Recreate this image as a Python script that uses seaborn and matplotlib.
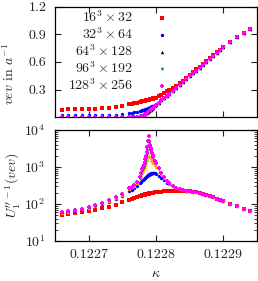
import numpy as np
import matplotlib
matplotlib.use("Agg")
import matplotlib.pyplot as plt
import seaborn as sns
from matplotlib.ticker import FormatStrFormatter, FixedLocator, NullFormatter, LogLocator

# --- Data (kappa offsets in units of 1e-6 from 0.1227) ---
kappa_off = [-40, -30, -20, -10, 0, 10, 20, 30, 40, 50,
             60, 64, 68, 72, 76, 78, 80, 81, 82, 83, 84, 85, 86, 87, 88, 89, 90, 91, 92, 93, 94, 95, 96, 98, 100,
             104, 108, 112, 116, 120, 125, 130, 135, 140, 145, 150, 155, 160, 165, 170, 175, 180, 185, 190, 195, 200,
             210, 220, 230, 240]

# vev in lattice units
vev_16 = [0.084, 0.085, 0.087, 0.089, 0.091, 0.094, 0.098, 0.103, 0.110, 0.120,
          0.140, 0.146, 0.152, 0.158, 0.165, 0.168, 0.172, 0.174, 0.176, 0.178, 0.180, 0.182, 0.184, 0.186, 0.188,
          0.190, 0.192, 0.194, 0.196, 0.198, 0.200, 0.203, 0.205, 0.209, 0.214,
          0.228, 0.244, 0.262, 0.281, 0.300, 0.320, 0.342, 0.369, 0.397, 0.426, 0.456, 0.487, 0.518, 0.549, 0.580,
          0.611, 0.642, 0.673, 0.704, 0.733, 0.762,
          0.815, 0.865, 0.915, 0.960]
vev_32 = [0.020, 0.021, 0.021, 0.022, 0.023, 0.024, 0.025, 0.027, 0.029, 0.032,
          0.043, 0.048, 0.053, 0.059, 0.066, 0.070, 0.074, 0.077, 0.079, 0.082, 0.085, 0.088, 0.091, 0.094, 0.097,
          0.100, 0.103, 0.107, 0.110, 0.114, 0.117, 0.121, 0.124, 0.132, 0.140,
          0.160, 0.183, 0.208, 0.234, 0.259, 0.289, 0.320, 0.351, 0.382, 0.413, 0.445, 0.476, 0.507, 0.538, 0.570,
          0.601, 0.632, 0.663, 0.695, 0.726, 0.757,
          0.815, 0.865, 0.915, 0.960]
vev_64 = [0.010, 0.010, 0.011, 0.011, 0.011, 0.012, 0.012, 0.013, 0.013, 0.014,
          0.015, 0.016, 0.017, 0.019, 0.022, 0.025, 0.028, 0.030, 0.033, 0.036, 0.040, 0.044, 0.049, 0.054, 0.059,
          0.065, 0.071, 0.077, 0.083, 0.089, 0.095, 0.101, 0.107, 0.119, 0.131,
          0.156, 0.182, 0.207, 0.232, 0.257, 0.288, 0.320, 0.351, 0.382, 0.413, 0.445, 0.476, 0.507, 0.538, 0.570,
          0.601, 0.632, 0.663, 0.695, 0.726, 0.757,
          0.815, 0.865, 0.915, 0.960]
vev_96 = [0.005, 0.005, 0.005, 0.005, 0.006, 0.006, 0.006, 0.006, 0.007, 0.007,
          0.007, 0.007, 0.008, 0.008, 0.009, 0.011, 0.015, 0.018, 0.023, 0.028, 0.034, 0.040, 0.046, 0.052, 0.058,
          0.064, 0.070, 0.076, 0.082, 0.088, 0.094, 0.100, 0.106, 0.119, 0.131,
          0.156, 0.182, 0.207, 0.232, 0.257, 0.288, 0.320, 0.351, 0.382, 0.413, 0.445, 0.476, 0.507, 0.538, 0.570,
          0.601, 0.632, 0.663, 0.695, 0.726, 0.757,
          0.815, 0.865, 0.915, 0.960]
vev_128 = [0.002, 0.002, 0.002, 0.002, 0.003, 0.003, 0.003, 0.003, 0.003, 0.003,
           0.004, 0.004, 0.004, 0.005, 0.005, 0.006, 0.010, 0.014, 0.020, 0.026, 0.032, 0.038, 0.044, 0.050, 0.056,
           0.063, 0.069, 0.075, 0.081, 0.088, 0.094, 0.100, 0.106, 0.119, 0.131,
           0.156, 0.182, 0.207, 0.232, 0.257, 0.288, 0.320, 0.351, 0.382, 0.413, 0.445, 0.476, 0.507, 0.538, 0.570,
           0.601, 0.632, 0.663, 0.695, 0.726, 0.757,
           0.815, 0.865, 0.915, 0.960]

# inverse second derivative of the effective potential
u_16 = [50, 54, 57, 60, 65, 71, 76, 85, 95, 112,
        130, 139, 148, 157, 165, 169, 173, 175, 177, 179, 181, 183, 185, 187, 189,
        191, 193, 195, 197, 198, 200, 201, 203, 205, 208,
        213, 217, 221, 224, 227, 229, 230, 230, 228, 225, 220, 213, 205, 196, 186,
        175, 163, 151, 139, 128, 117,
        102, 87, 73, 64]
u_32 = [57, 61, 66, 70, 78, 86, 100, 116, 138, 165,
        220, 245, 275, 315, 370, 400, 435, 455, 475, 495, 520, 540, 560, 580, 600,
        620, 635, 650, 665, 675, 685, 690, 690, 680, 655,
        585, 505, 435, 380, 340, 300, 272, 255, 240, 229, 221, 214, 206, 197, 187,
        176, 164, 152, 140, 129, 118,
        102, 87, 73, 64]
u_64 = [58, 62, 67, 72, 80, 89, 104, 122, 146, 176,
        255, 282, 315, 375, 490, 580, 700, 780, 870, 980, 1120, 1300, 1520, 1780, 2000,
        2100, 2000, 1850, 1700, 1560, 1440, 1340, 1250, 1100, 980,
        800, 640, 510, 420, 358, 308, 274, 251, 236, 226, 219, 212, 205, 196, 186,
        175, 163, 151, 139, 128, 117,
        102, 87, 73, 64]
u_96 = [59, 63, 68, 73, 82, 91, 106, 125, 150, 182,
        262, 287, 318, 385, 520, 640, 800, 900, 1030, 1200, 1450, 1750, 2200, 2900, 3800,
        4500, 3700, 3100, 2700, 2400, 2100, 1900, 1700, 1400, 1200,
        900, 690, 535, 428, 363, 309, 275, 252, 237, 227, 219, 212, 205, 196, 186,
        175, 163, 151, 139, 128, 117,
        102, 87, 73, 64]
u_128 = [60, 64, 69, 74, 83, 92, 108, 127, 152, 185,
         265, 290, 320, 390, 540, 680, 880, 1000, 1150, 1350, 1650, 2000, 2600, 3500, 5000,
         6800, 5000, 4000, 3300, 2800, 2400, 2100, 1850, 1500, 1250,
         920, 700, 540, 430, 365, 310, 275, 252, 237, 227, 219, 212, 205, 196, 186,
         175, 163, 151, 139, 128, 117,
         102, 87, 73, 64]

labels = [r"$16^3\times 32$", r"$32^3\times 64$", r"$64^3\times 128$",
          r"$96^3\times 192$", r"$128^3\times 256$"]

kappa = 0.1227 + np.array(kappa_off) * 1e-6

# --- Style ---
sns.set_style("ticks")
plt.rcParams.update({
    "font.family": "cmr10",
    "mathtext.fontset": "cm",
    "axes.formatter.use_mathtext": True,
    "font.size": 10,
    "xtick.direction": "in",
    "ytick.direction": "in",
    "xtick.top": True,
    "ytick.right": True,
    "axes.linewidth": 0.9,
    "axes.edgecolor": "black",
    "text.color": "#222222",
    "xtick.color": "#222222",
    "ytick.color": "#222222",
})

fig = plt.figure(figsize=(2.58, 2.81), dpi=100)
ax1 = fig.add_axes([0.213, 0.5826, 0.783, 0.394])
ax2 = fig.add_axes([0.213, 0.1423, 0.783, 0.395])

top_series = [vev_16, vev_32, vev_64, vev_96, vev_128]
bot_series = [u_16, u_32, u_64, u_96, u_128]
top_colors = ["#ff0000", "#0000ff", "#000000", "#008000", "#ff00ff"]
bot_colors = ["#ff0000", "#0000ff", "#ffa500", "#008000", "#ff00ff"]
markers = ["s", "o", "^", "v", "P"]
sizes = [6, 6, 6, 6, 7]

for vals, c, m, sz, lab in zip(top_series, top_colors, markers, sizes, labels):
    sns.scatterplot(x=kappa, y=vals, marker=m, color=c, s=sz, linewidth=0, ax=ax1, label=lab)
for vals, c, m, sz in zip(bot_series, bot_colors, markers, sizes):
    sns.scatterplot(x=kappa, y=vals, marker=m, color=c, s=sz, linewidth=0, ax=ax2)

for ax in (ax1, ax2):
    ax.set_xlim(0.12265, 0.12295)
    ax.xaxis.set_major_locator(FixedLocator([0.1227, 0.1228, 0.1229]))

ax1.set_ylim(0, 1.2)
ax1.set_yticks([0.3, 0.6, 0.9, 1.2])
ax1.yaxis.set_major_formatter(FormatStrFormatter("%.1f"))
ax1.xaxis.set_major_formatter(NullFormatter())
ax1.set_ylabel(r"$vev$ in $a^{-1}$")
ax1.yaxis.set_label_coords(-0.19, 0.39)

ax2.set_yscale("log")
ax2.set_ylim(10, 1e4)
ax2.yaxis.set_major_locator(LogLocator(base=10, numticks=10))
ax2.yaxis.set_minor_locator(LogLocator(base=10, subs=np.arange(2, 10), numticks=10))
ax2.xaxis.set_major_formatter(FormatStrFormatter("%.4f"))
ax2.set_ylabel(r"$U_1^{\prime\prime\,-1}(vev)$")
ax2.yaxis.set_label_coords(-0.165, 0.5)
ax2.set_xlabel(r"$\kappa$")
ax2.xaxis.set_label_coords(0.5, -0.24)

for ax in (ax1, ax2):
    ax.tick_params(which="major", length=4, width=0.8, pad=6)
    ax.tick_params(which="minor", length=2, width=0.6)
ax2.tick_params(axis="y", which="major", pad=7)

leg = ax1.legend(loc="upper left", bbox_to_anchor=(0.064, 0.975), frameon=False,
                 markerfirst=False, borderpad=0, borderaxespad=0, labelspacing=0.1,
                 handlelength=1.0, handletextpad=1.6, fontsize=10)

fig.savefig("out.png", dpi=100)
